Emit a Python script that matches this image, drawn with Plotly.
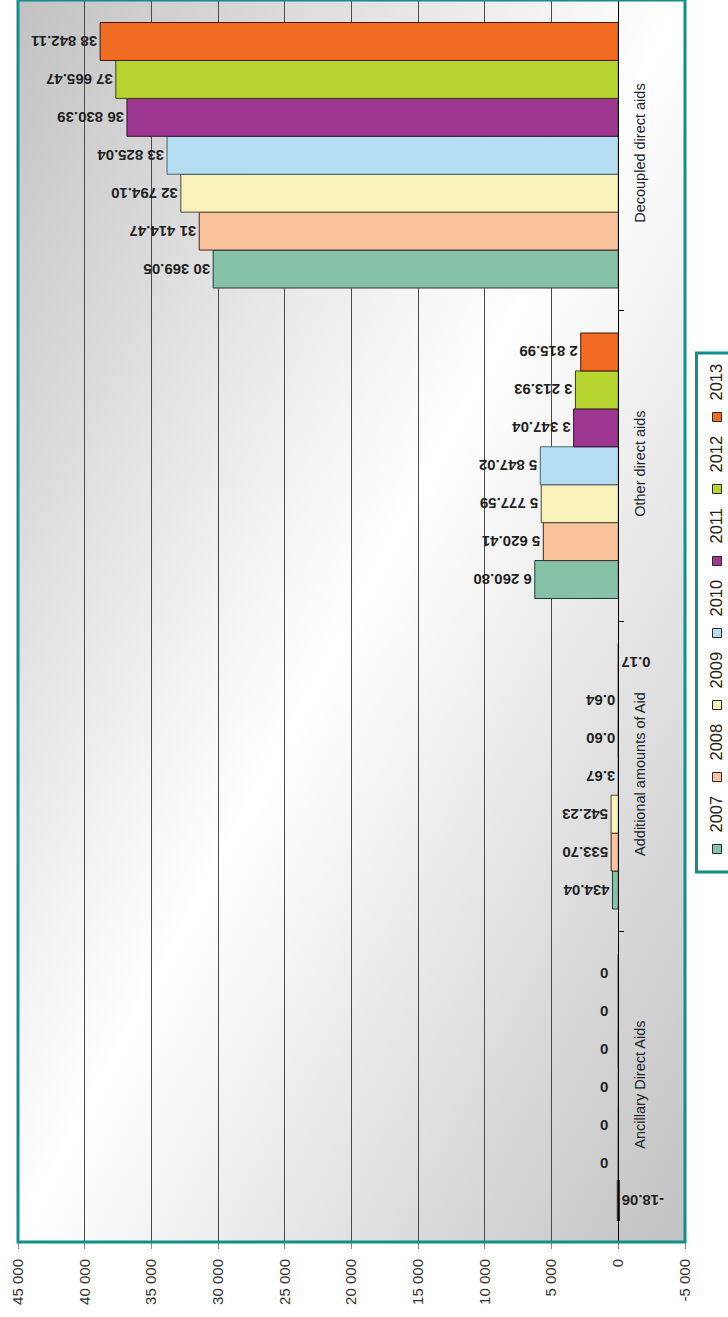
import base64
import plotly.graph_objects as go

# ---------------- data ----------------
categories = ["Ancillary Direct Aids", "Additional amounts of Aid",
              "Other direct aids", "Decoupled direct aids"]
years = ["2007", "2008", "2009", "2010", "2011", "2012", "2013"]
v2007 = [-18.06, 434.04, 6260.80, 30369.05]
v2008 = [0, 533.70, 5620.41, 31414.47]
v2009 = [0, 542.23, 5777.59, 32794.10]
v2010 = [0, 3.67, 5847.02, 33825.04]
v2011 = [0, 0.60, 3347.04, 36830.39]
v2012 = [0, 0.64, 3213.93, 37665.47]
v2013 = [0, 0.17, 2815.99, 38842.11]
series_values = [v2007, v2008, v2009, v2010, v2011, v2012, v2013]
tick_vals = [-5000, 0, 5000, 10000, 15000, 20000, 25000, 30000, 35000, 40000, 45000]
tick_text = ["-5 000", "0", "5 000", "10 000", "15 000", "20 000", "25 000",
             "30 000", "35 000", "40 000", "45 000"]

# ---------------- style ----------------
colors = ["#86c2a8", "#fbc39c", "#f9f3bb", "#b6def3", "#9e3792", "#b7d431", "#f26b22"]
outlines = ["#1e3b36", "#3a2a20", "#4a4630", "#4a6070", "#2e1030", "#3a4410", "#3a1a10"]
TEAL = "#138e8a"
FONT = "Liberation Sans, Arial, sans-serif"
W, H = 728, 1317
L, R, T, B = 18, 685, 0, 1242
BARGAP = 0.145
LABEL_FONT = dict(family=FONT, size=15, color="#1f1f1f", weight="bold")


def fx(px):
    return (px - L) / (R - L)


def fy(py):
    return (B - py) / (B - T)


def fmt(v):
    if v == 0:
        return ""
    return f"{v:,.2f}".replace(",", " ")


fig = go.Figure()
annotations = []
n = len(years)
slot = (1 - BARGAP) / n
for i, (yr, vals, col, oc) in enumerate(zip(years, series_values, colors, outlines)):
    widths = [3 if v < 0 else 1 for v in vals]
    fig.add_trace(go.Bar(
        y=categories, x=vals, orientation="h", name=yr,
        marker=dict(color=col, line=dict(color=oc, width=widths)),
        text=[fmt(v) for v in vals], textposition="outside", textangle=180,
        textfont=LABEL_FONT, cliponaxis=False, constraintext="none",
    ))
    # labels for zero-valued bars (placed on the positive side like the original)
    for ci, v in enumerate(vals):
        if v == 0:
            annotations.append(dict(
                xref="x", yref="y", x=0, y=ci - (1 - BARGAP) / 2 + slot * (i + 0.5),
                text="0", showarrow=False, xanchor="right", yanchor="middle",
                xshift=-8, font=LABEL_FONT))

svg = ('<svg xmlns="http://www.w3.org/2000/svg" width="100" height="100" '
       'viewBox="0 0 100 100" preserveAspectRatio="none"><defs>'
       '<linearGradient id="g" x1="0" y1="0" x2="1" y2="1">'
       '<stop offset="0" stop-color="#c2c2c2"/>'
       '<stop offset="0.5" stop-color="#ffffff"/>'
       '<stop offset="1" stop-color="#c2c2c2"/>'
       '</linearGradient></defs><rect width="100" height="100" fill="url(#g)"/></svg>')
bg_src = "data:image/svg+xml;base64," + base64.b64encode(svg.encode()).decode()

shapes = [dict(type="rect", xref="paper", yref="paper", x0=0, x1=1, y0=0, y1=1,
               line=dict(color=TEAL, width=3), layer="above")]

# legend (rotated, drawn manually)
shapes.append(dict(type="rect", xref="paper", yref="paper",
                   x0=fx(696.5), x1=fx(760), y0=fy(872), y1=fy(353),
                   line=dict(color=TEAL, width=3), fillcolor="white", layer="above"))
for i, (yr, col) in enumerate(zip(years, colors)):
    sy = 849 - i * 72
    shapes.append(dict(type="rect", xref="paper", yref="paper",
                       x0=fx(712.5), x1=fx(721.5), y0=fy(sy + 4.5), y1=fy(sy - 4.5),
                       line=dict(color="#2a2a2a", width=1), fillcolor=col, layer="above"))
    annotations.append(dict(xref="paper", yref="paper", x=fx(715.5), y=fy(sy - 35),
                            text=yr, showarrow=False, textangle=-90,
                            xanchor="center", yanchor="middle",
                            font=dict(family=FONT, size=16.5, color="#222222")))

fig.update_layout(
    width=W, height=H,
    margin=dict(l=L, r=W - R, t=T, b=H - B, pad=0),
    barmode="group", bargap=BARGAP, bargroupgap=0,
    showlegend=False,
    paper_bgcolor="white", plot_bgcolor="rgba(0,0,0,0)",
    font=dict(family=FONT, color="#222222"),
    images=[dict(source=bg_src, xref="paper", yref="paper", x=0, y=1,
                 sizex=1, sizey=1, xanchor="left", yanchor="top",
                 sizing="stretch", layer="below")],
    shapes=shapes, annotations=annotations,
    xaxis=dict(range=[45000, -5000], tickvals=tick_vals, ticktext=tick_text,
               tickangle=-90, ticks="outside", ticklen=6, tickcolor="#8a8a8a",
               showgrid=True, gridcolor="#4a4a4a", gridwidth=1,
               zeroline=False, showline=False, automargin=False,
               ticklabelstandoff=4,
               tickfont=dict(family=FONT, size=15, color="#333333")),
    yaxis=dict(type="category", categoryorder="array", categoryarray=categories,
               range=[-0.5, 3.5], anchor="free", position=0.9, side="right",
               showline=True, linecolor="black", linewidth=1,
               ticks="outside", tickson="boundaries", ticklen=5, tickcolor="black",
               tickangle=-90, showgrid=False, zeroline=False, automargin=False,
               ticklabelstandoff=8,
               tickfont=dict(family=FONT, size=14.5, color="#222222")),
)

fig.write_html("out.html", config={"displayModeBar": False},
               post_script="document.body.style.margin='0';")
